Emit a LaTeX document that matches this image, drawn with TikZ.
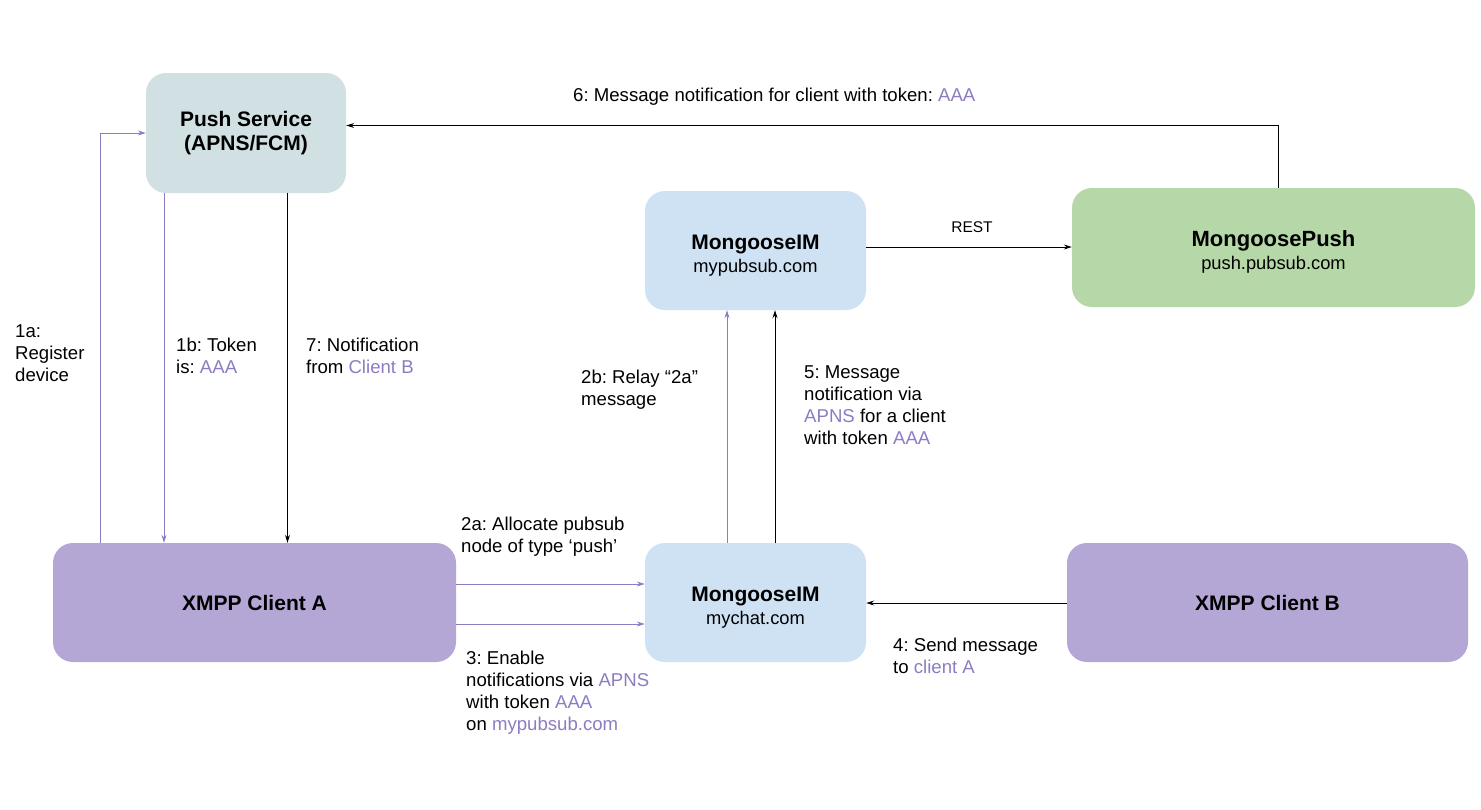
\documentclass[tikz,border=0pt]{standalone}
\usepackage{fontspec}
\setmainfont{Liberation Sans}
\usetikzlibrary{arrows.meta}
\frenchspacing
\definecolor{pushbg}{HTML}{D0E0E3}
\definecolor{mimbg}{HTML}{CFE2F3}
\definecolor{mpushbg}{HTML}{B6D7A8}
\definecolor{clientbg}{HTML}{B4A7D6}
\definecolor{hl}{HTML}{8E7CC3}
\newcommand{\hlt}[1]{\textcolor{hl}{#1}}
\newcommand{\lblfont}{\fontsize{18.6}{22}\selectfont}
\newcommand{\boldfont}{\fontsize{21}{24}\selectfont\bfseries}
\newcommand{\subfont}{\fontsize{18.3}{23}\selectfont}
\newcommand{\topspace}{\rule{0pt}{25pt}}
\tikzset{
  box/.style={draw=none, rounded corners=20pt, align=center, inner sep=0pt},
  lbl/.style={anchor=north west, inner sep=0pt, align=left, font=\lblfont},
  parrow/.style={draw=hl, line width=1pt, -{Stealth[length=8pt,width=5pt]}},
  barrow/.style={draw=black, line width=1pt, -{Stealth[length=8pt,width=5pt]}},
}
\begin{document}
\begin{tikzpicture}[x=1pt,y=-1pt]
\useasboundingbox (0,0) rectangle (1481,809);
\fill[white] (0,0) rectangle (1481,809);

% boxes
\node[box, fill=pushbg, minimum width=200pt, minimum height=120pt, font=\boldfont] (push) at (246,133)
  {Push Service\\(APNS/FCM)};
\node[box, fill=mimbg, minimum width=221pt, minimum height=119pt, font=\subfont] (mim1) at (755.5,250.5)
  {\topspace{\boldfont MongooseIM}\\mypubsub.com};
\node[box, fill=mpushbg, minimum width=403pt, minimum height=119pt, font=\subfont] (mpush) at (1273.5,247.5)
  {\topspace{\fontsize{22}{25}\selectfont\bfseries MongoosePush}\\push.pubsub.com};
\node[box, fill=clientbg, minimum width=403pt, minimum height=119pt, font=\boldfont] (ca) at (254.5,602.5)
  {XMPP Client A};
\node[box, fill=mimbg, minimum width=221pt, minimum height=119pt, font=\subfont] (mim2) at (755.5,602.5)
  {\topspace{\boldfont MongooseIM}\\mychat.com};
\node[box, fill=clientbg, minimum width=401pt, minimum height=119pt, font=\boldfont] (cb) at (1267.5,602.5)
  {XMPP Client B};

% helper coordinates
\coordinate (x1a) at (100,0);
\coordinate (x1b) at (164,0);
\coordinate (x7) at (287.5,0);
\coordinate (c6) at (1278,125.5);
\coordinate (yrest) at (0,247);
\coordinate (x2b) at (727,0);
\coordinate (x5) at (775,0);
\coordinate (y2a) at (0,584);
\coordinate (y3) at (0,624);
\coordinate (y4) at (0,603);

% connectors
\draw[parrow] (ca.north -| x1a) |- (push.west);
\draw[parrow] (push.south -| x1b) -- (ca.north -| x1b);
\draw[barrow] (push.south -| x7) -- (ca.north -| x7);
\draw[barrow] (mpush.north -| c6) |- (push.east |- c6);
\draw[barrow] (mim1.east |- yrest) -- (mpush.west |- yrest);
\draw[parrow] (mim2.north -| x2b) -- (mim1.south -| x2b);
\draw[barrow] (mim2.north -| x5) -- (mim1.south -| x5);
\draw[parrow] (ca.east |- y2a) -- (mim2.west |- y2a);
\draw[parrow] (ca.east |- y3) -- (mim2.west |- y3);
\draw[barrow] (cb.west |- y4) -- (mim2.east |- y4);

% labels
\node[lbl] (l6) at (573,86) {\strut 6: Message notification for client with token: \hlt{AAA}};
\node[font=\fontsize{15.5}{18}\selectfont, inner sep=0pt] (lrest) at (972,227) {REST};
\node[lbl] (l1a) at (15,322) {\strut 1a:\\Register\\device};
\node[lbl] (l1b) at (176,336) {\strut 1b: Token\\is: \hlt{AAA}};
\node[lbl] (l7) at (306,336) {\strut 7: Notification\\from \hlt{Client B}};
\node[lbl] (l2b) at (581,368) {\strut 2b: Relay “2a”\\message};
\node[lbl] (l5) at (804,363) {\strut 5: Message\\notification via\\\hlt{APNS} for a client\\with token \hlt{AAA}};
\node[lbl] (l2a) at (461,515) {\strut 2a: Allocate pubsub\\node of type ‘push’};
\node[lbl] (l3) at (466,649) {\strut 3: Enable\\notifications via \hlt{APNS}\\with token \hlt{AAA}\\on \hlt{mypubsub.com}};
\node[lbl] (l4) at (893,636) {\strut 4: Send message\\to \hlt{client A}};
\end{tikzpicture}
\end{document}
